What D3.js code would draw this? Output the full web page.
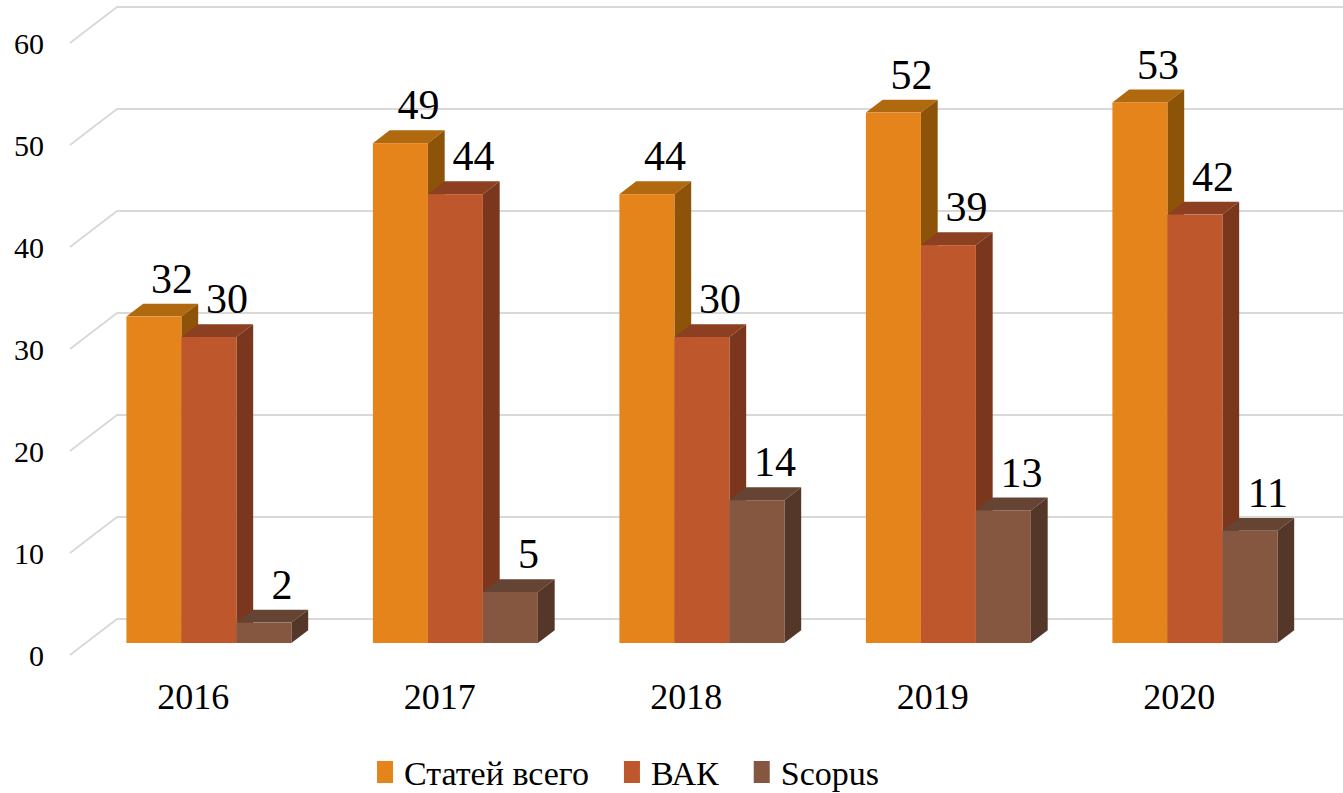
<!DOCTYPE html>
<html>
<head>
<meta charset="utf-8">
<script src="https://cdn.jsdelivr.net/npm/d3@7"></script>
<style>
  body { margin: 0; background: #fff; }
</style>
</head>
<body>
<div id="container"></div>
<script>
let w = 1343;
let h = 793;
let serif = "'Liberation Serif'";

// data
let years = ["2016", "2017", "2018", "2019", "2020"];
let seriesNames = ["Статей всего", "ВАК", "Scopus"];
let totalArticles = [32, 49, 44, 52, 53];
let vakArticles = [30, 44, 30, 39, 42];
let scopusArticles = [2, 5, 14, 13, 11];
let yTicks = [0, 10, 20, 30, 40, 50, 60];

// colours: front, top, side
let faceColors = [
  { front: "#E5841A", top: "#B0690F", side: "#8D5309" },
  { front: "#BE582C", top: "#8D3F21", side: "#7A371D" },
  { front: "#855741", top: "#654434", side: "#553729" }
];

let allValues = [totalArticles, vakArticles, scopusArticles];

// depth vector (front edge of floor to back wall)
let depthX = 47, depthY = -36;
let barZ0 = 0.333, barZ1 = 0.69;

let viz = d3.select("#container")
  .append("svg")
  .attr("width", w)
  .attr("height", h)
  .style("background", "#fff");

let y = d3.scaleLinear().domain([0, 60]).range([655, 43]);

let x0 = d3.scaleBand().domain(years).range([70, 70 + 5 * 246.5]);
let groupWidth = 165;
let x1 = d3.scaleBand().domain(seriesNames).range([0, groupWidth]);

// gridlines
let grid = viz.append("g");
yTicks.forEach(t => {
  grid.append("path")
    .attr("d", `M70,${y(t)} L${70 + depthX},${y(t) + depthY} L${w},${y(t) + depthY}`)
    .attr("fill", "none")
    .attr("stroke", "#d9d9d9")
    .attr("stroke-width", 2);
});

// y labels
viz.append("g").selectAll("text").data(yTicks).enter()
  .append("text")
  .attr("x", 44)
  .attr("y", d => y(d))
  .attr("dy", "0.35em")
  .attr("text-anchor", "end")
  .style("font", `30px ${serif}`)
  .text(d => d);

// bars
let bars = viz.append("g");
let labels = viz.append("g");

years.forEach((yr, i) => {
  seriesNames.forEach((s, j) => {
    let v = allValues[j][i];
    let c = faceColors[j];
    let fx = x0(yr) + x0.bandwidth() / 2 - groupWidth / 2 + x1(s) + depthX * barZ0;
    let bw = x1.bandwidth();
    let fyBottom = y(0) + depthY * barZ0;
    let fyTop = y(v) + depthY * barZ0;
    let dx = depthX * (barZ1 - barZ0);
    let dy = depthY * (barZ1 - barZ0);

    // top face
    bars.append("path")
      .attr("d", `M${fx},${fyTop} L${fx + dx},${fyTop + dy} L${fx + bw + dx},${fyTop + dy} L${fx + bw},${fyTop} Z`)
      .attr("fill", c.top);
    // side face
    bars.append("path")
      .attr("d", `M${fx + bw},${fyTop} L${fx + bw + dx},${fyTop + dy} L${fx + bw + dx},${fyBottom + dy} L${fx + bw},${fyBottom} Z`)
      .attr("fill", c.side);
    // front face
    bars.append("rect")
      .attr("x", fx)
      .attr("y", fyTop)
      .attr("width", bw)
      .attr("height", fyBottom - fyTop)
      .attr("fill", c.front);

    labels.append("text")
      .attr("x", fx + bw / 2 + 18)
      .attr("y", fyTop + dy - 11)
      .attr("text-anchor", "middle")
      .style("font", `42px ${serif}`)
      .text(v);
  });
});

// category labels
viz.append("g").selectAll("text").data(years).enter()
  .append("text")
  .attr("x", d => x0(d) + x0.bandwidth() / 2)
  .attr("y", 709)
  .attr("text-anchor", "middle")
  .style("font", `36px ${serif}`)
  .text(d => d);

// legend
let legend = viz.append("g");
let cursor = 0;
seriesNames.forEach((s, j) => {
  let g = legend.append("g");
  g.append("rect")
    .attr("x", 0).attr("y", 761)
    .attr("width", 16).attr("height", 22)
    .attr("fill", faceColors[j].front);
  let t = g.append("text")
    .attr("x", 27).attr("y", 785)
    .style("font", `34px ${serif}`)
    .text(s);
  let tw = t.node().getComputedTextLength();
  g.attr("transform", `translate(${cursor},0)`);
  cursor += 27 + tw + 35;
});
let legendWidth = cursor - 35;
legend.attr("transform", `translate(${628 - legendWidth / 2},0)`);
</script>
</body>
</html>
